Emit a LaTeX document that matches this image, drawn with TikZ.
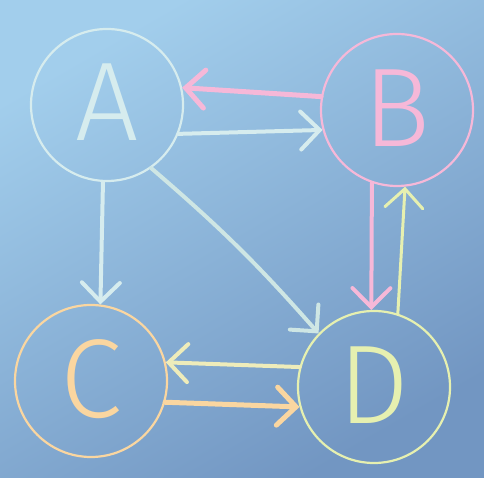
\documentclass[tikz,border=0pt]{standalone}
\usepackage{fontspec}
\newfontfamily\lettfont{Fira Sans Light}
\usetikzlibrary{arrows.meta}
\definecolor{bgtl}{RGB}{162,206,236}
\definecolor{bgbr}{RGB}{114,150,194}
\definecolor{colA}{RGB}{214,236,238}
\definecolor{colB}{RGB}{246,184,216}
\definecolor{colC}{RGB}{250,214,160}
\definecolor{colD}{RGB}{230,240,176}
\definecolor{colAD}{RGB}{206,230,228}
\definecolor{colDC}{RGB}{238,236,186}
\tikzset{
  vert/.style={circle, draw, line width=2.2pt, minimum size=152pt, inner sep=0pt,
    font=\lettfont\fontsize{112}{112}\selectfont},
  edge/.style={line width=4pt, line cap=round,
    -{Straight Barb[length=19pt, width=38pt, line cap=round]}}
}
\begin{document}
\begin{tikzpicture}[x=1pt,y=1pt]
\shade[top color=bgtl, bottom color=bgbr, shading angle=30] (0,0) rectangle (484,478);
\useasboundingbox (0,0) rectangle (484,478);
\node[vert, draw=colA, text=colA] (A) at (107,373) {\raisebox{5pt}{A}};
\node[vert, draw=colB, text=colB] (B) at (397,368) {\raisebox{3pt}{B}};
\node[vert, draw=colC, text=colC] (C) at (91,97) {\raisebox{4pt}{C}};
\node[vert, draw=colD, text=colD] (D) at (374,91) {\raisebox{4pt}{D}};
\draw[edge, draw=colB, line width=5pt] (B.170) -- (A.13);
\draw[edge, draw=colA] (A.-22) -- (B.195);
\draw[edge, draw=colA] (A.-93) -- (C.83);
\draw[edge, draw=colAD] (A.-55) to[bend left=4] (D.136);
\draw[edge, draw=colB] (B.-109) -- (D.92);
\draw[edge, draw=colD, line width=3pt] (D.72) -- (B.-84);
\draw[edge, draw=colDC] (D.165) -- (C.14);
\draw[edge, draw=colC, line width=5pt] (C.-16) -- (D.195);
\end{tikzpicture}
\end{document}
